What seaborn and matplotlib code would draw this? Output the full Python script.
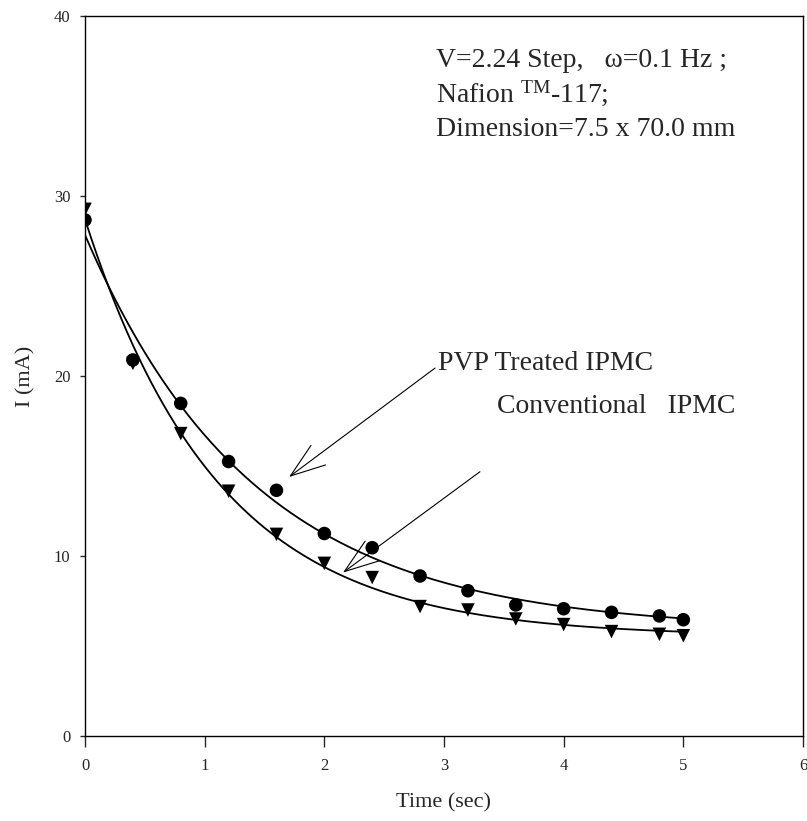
import numpy as np
import pandas as pd
import matplotlib
matplotlib.use("Agg")
import matplotlib.pyplot as plt
import seaborn as sns

# ---- data ----
time_pts = [0.0, 0.4, 0.8, 1.2, 1.6, 2.0, 2.4, 2.8, 3.2, 3.6, 4.0, 4.4, 4.8, 5.0]
pvp_current = [28.67, 20.89, 18.48, 15.25, 13.65, 11.25, 10.46, 8.89, 8.07, 7.28, 7.07, 6.87, 6.67, 6.46]
conv_current = [29.26, 20.7, 16.8, 13.6, 11.2, 9.59, 8.8, 7.19, 7.0, 6.5, 6.19, 5.8, 5.65, 5.57]
x_ticks = [0, 1, 2, 3, 4, 5, 6]
y_ticks = [0, 10, 20, 30, 40]

sns.set_style("ticks")
plt.rcParams['font.family'] = ['Liberation Serif', 'DejaVu Serif']
plt.rcParams['mathtext.fontset'] = 'custom'
plt.rcParams['mathtext.rm'] = 'Liberation Serif'
plt.rcParams['mathtext.it'] = 'Liberation Serif:italic'


def exp_fit(x, y):
    """Least-squares fit y = c + a*exp(-b x) (grid on b, linear in c, a)."""
    x = np.asarray(x, float)
    y = np.asarray(y, float)
    best = None
    for b in np.linspace(0.05, 3.0, 3000):
        A = np.column_stack([np.ones_like(x), np.exp(-b * x)])
        coef, *_ = np.linalg.lstsq(A, y, rcond=None)
        r = np.sum((A @ coef - y) ** 2)
        if best is None or r < best[0]:
            best = (r, b, coef)
    _, b, (c, a) = best
    return lambda t: c + a * np.exp(-b * t)


fig = plt.figure(figsize=(8.07, 8.21), dpi=100)
ax = fig.add_axes([85 / 807, 1 - 736 / 821, 718 / 807, 720 / 821])

pts = pd.DataFrame({
    "t": time_pts * 2,
    "I": pvp_current + conv_current,
    "s": ["PVP"] * len(time_pts) + ["Conv"] * len(time_pts),
})

tt = np.linspace(0, 5, 300)
fit_pvp = exp_fit(time_pts, pvp_current)
fit_conv = exp_fit(time_pts, conv_current)
curves = pd.DataFrame({
    "t": np.concatenate([tt, tt]),
    "I": np.concatenate([fit_pvp(tt), fit_conv(tt)]),
    "s": ["PVP"] * len(tt) + ["Conv"] * len(tt),
})

sns.lineplot(data=curves, x="t", y="I", units="s", estimator=None,
             color="black", lw=1.3, ax=ax, legend=False)
sns.scatterplot(data=pts, x="t", y="I", style="s",
                markers={"PVP": "o", "Conv": "v"}, color="black",
                s=95, edgecolor="black", linewidth=0, ax=ax, legend=False,
                zorder=5)

ax.set_xlim(0, 6)
ax.set_ylim(0, 40)
ax.set_xticks(x_ticks)
ax.set_yticks(y_ticks)
ax.tick_params(direction="out", width=1, labelsize=12,
               top=False, right=False)
ax.tick_params(axis="y", length=3.6, pad=7)
ax.tick_params(axis="x", length=8, pad=7.5)
for sp in ax.spines.values():
    sp.set_linewidth(1.0)
    sp.set_color("black")

ax.set_xlabel("Time (sec)", fontsize=16, labelpad=14.5)
ax.set_ylabel("I (mA)", fontsize=16, labelpad=13)

tfs = 20
ax.text(2.933, 37.18, "V=2.24 Step,   ω=0.1 Hz ;", fontsize=tfs, va="baseline")
ax.text(2.933, 35.24, r"Nafion $^{\mathrm{TM}}$-117;", fontsize=tfs, va="baseline")
ax.text(2.933, 33.33, "Dimension=7.5 x 70.0 mm", fontsize=tfs, va="baseline")

ax.text(2.95, 20.33, "PVP Treated IPMC", fontsize=tfs, va="baseline")
ax.text(3.44, 17.96, "Conventional   IPMC", fontsize=tfs, va="baseline")

ax.annotate("", xy=(1.705, 14.39), xytext=(2.925, 20.44),
            arrowprops=dict(arrowstyle="->,head_length=1.0,head_width=0.35",
                            lw=0.8, color="black", mutation_scale=25,
                            shrinkA=0, shrinkB=0))
ax.annotate("", xy=(2.156, 9.08), xytext=(3.30, 14.68),
            arrowprops=dict(arrowstyle="->,head_length=1.0,head_width=0.35",
                            lw=0.8, color="black", mutation_scale=25,
                            shrinkA=0, shrinkB=0))

fig.savefig("out.png", dpi=100)
